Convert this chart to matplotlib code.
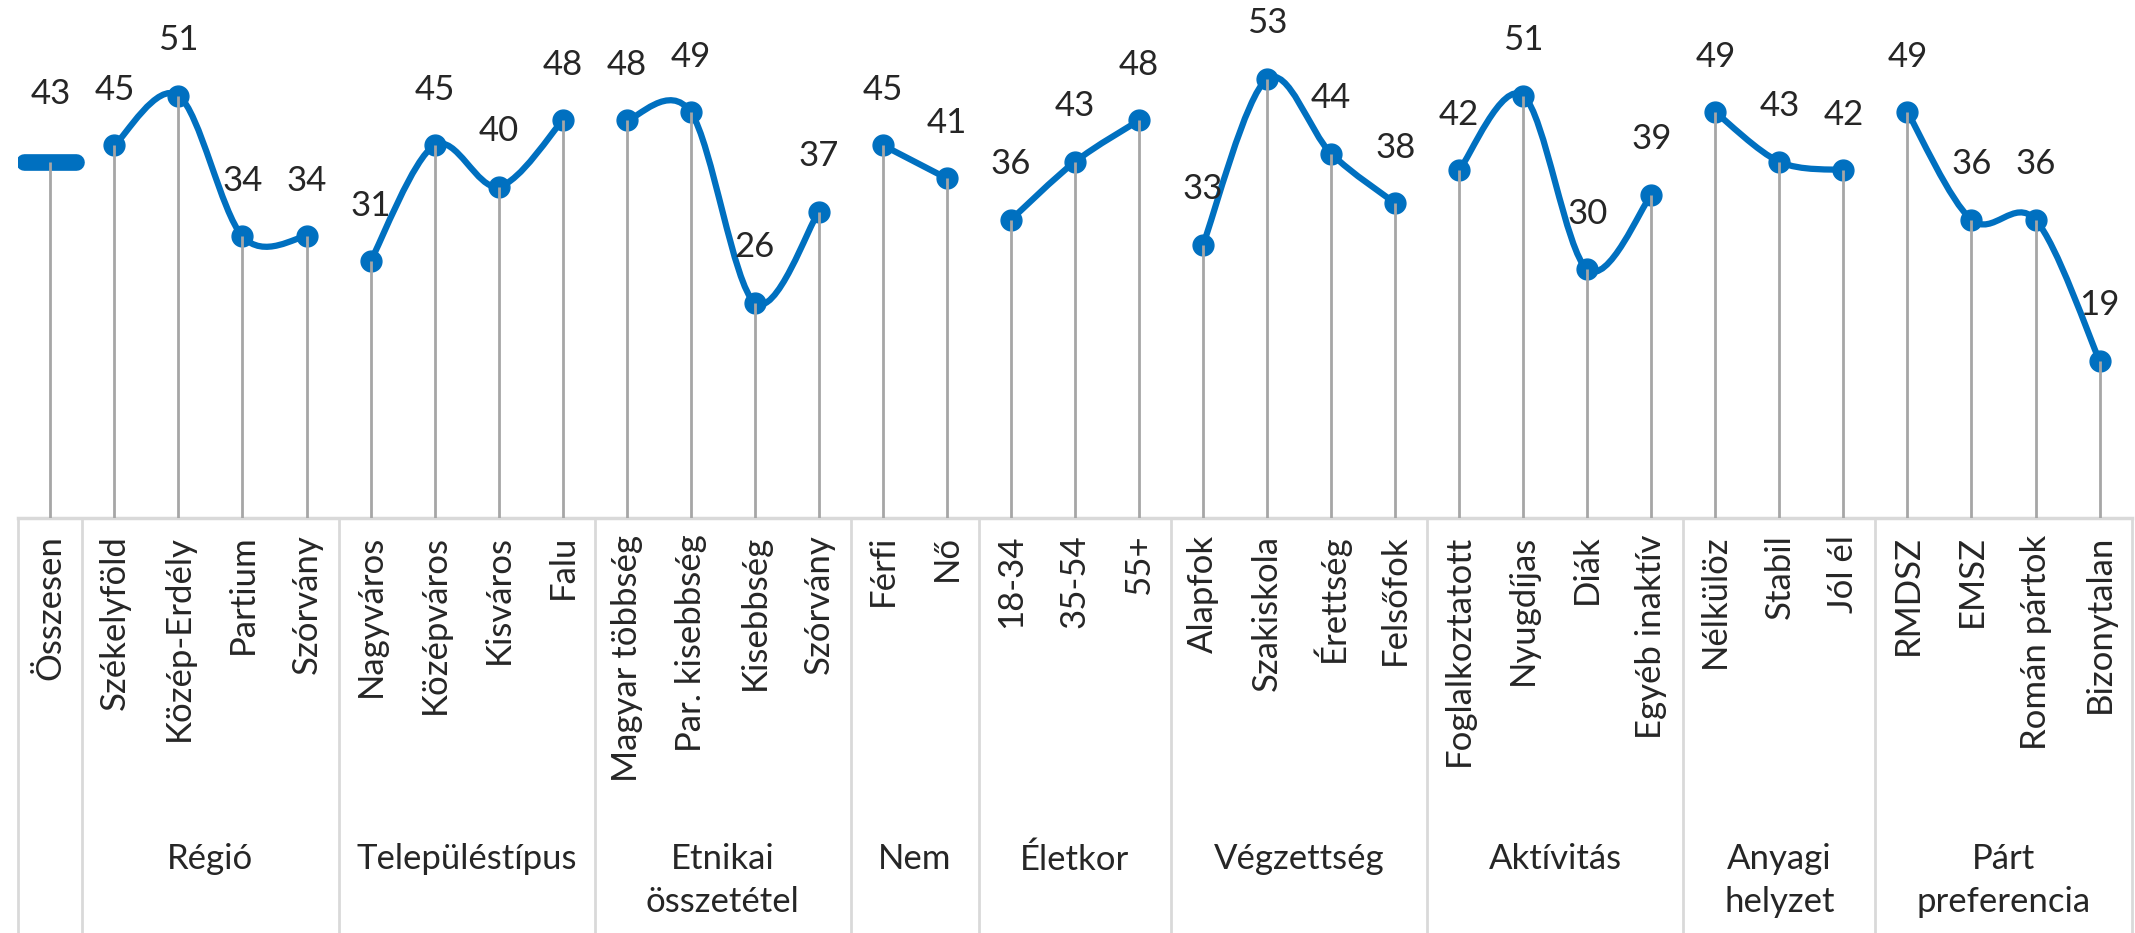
import matplotlib.pyplot as plt
import matplotlib.transforms as mtransforms
from matplotlib.markers import MarkerStyle
from matplotlib.path import Path
from matplotlib.patches import PathPatch

plt.rcParams['font.family'] = ['Lato', 'DejaVu Sans']

TOTAL_LABEL = "Összesen"
TOTAL_VALUE = 43

group_names = ["Régió", "Településtípus", "Etnikai\nösszetétel", "Nem", "Életkor",
               "Végzettség", "Aktívitás", "Anyagi\nhelyzet", "Párt\npreferencia"]
group_cats = [
    ["Székelyföld", "Közép-Erdély", "Partium", "Szórvány"],
    ["Nagyváros", "Középváros", "Kisváros", "Falu"],
    ["Magyar többség", "Par. kisebbség", "Kisebbség", "Szórvány"],
    ["Férfi", "Nő"],
    ["18-34", "35-54", "55+"],
    ["Alapfok", "Szakiskola", "Érettség", "Felsőfok"],
    ["Foglalkoztatott", "Nyugdíjas", "Diák", "Egyéb inaktív"],
    ["Nélkülöz", "Stabil", "Jól él"],
    ["RMDSZ", "EMSZ", "Román pártok", "Bizonytalan"],
]
group_vals = [
    [45, 51, 34, 34],
    [31, 45, 40, 48],
    [48, 49, 26, 37],
    [45, 41],
    [36, 43, 48],
    [33, 53, 44, 38],
    [42, 51, 30, 39],
    [49, 43, 42],
    [49, 36, 36, 19],
]

BLUE = "#0070C0"
DROP = "#A6A6A6"
AXIS = "#D9D9D9"
TEXT = "#262626"
FS = 25


def smooth_path(xs, ys):
    # Catmull-Rom style bezier, similar to Excel "smoothed line"
    pts = list(zip(xs, ys))
    n = len(pts)
    verts = [pts[0]]
    codes = [Path.MOVETO]
    for i in range(n - 1):
        p0 = pts[i - 1] if i > 0 else pts[i]
        p1 = pts[i]
        p2 = pts[i + 1]
        p3 = pts[i + 2] if i + 2 < n else pts[i + 1]
        c1 = (p1[0] + (p2[0] - p0[0]) / 6, p1[1] + (p2[1] - p0[1]) / 6)
        c2 = (p2[0] - (p3[0] - p1[0]) / 6, p2[1] - (p3[1] - p1[1]) / 6)
        verts += [c1, c2, p2]
        codes += [Path.CURVE4] * 3
    return Path(verts, codes)


fig = plt.figure(figsize=(21.35, 9.33), dpi=100)
ax = fig.add_axes([0.0086, 0.4448, 0.9898, 0.5327])
ax.set_xlim(-0.5, 32.5)
ax.set_ylim(0, 60)

labels = [TOTAL_LABEL]
x = 1
bounds = [-0.5, 0.5]
centers = []
for cats, vals in zip(group_cats, group_vals):
    xs = list(range(x, x + len(cats)))
    ax.add_patch(PathPatch(smooth_path(xs, vals), fill=False, edgecolor=BLUE,
                           lw=4.5, capstyle='round', joinstyle='round', zorder=3))
    ax.plot(xs, vals, 'o', color=BLUE, ms=15, zorder=4)
    ax.vlines(xs, 0, vals, color=DROP, lw=2, zorder=5)
    for xi, v in zip(xs, vals):
        ax.annotate(str(v), (xi, v), xytext=(0, 40), textcoords='offset points',
                    ha='center', va='center', fontsize=FS, color=TEXT)
    labels += cats
    centers.append((xs[0] + xs[-1]) / 2)
    x += len(cats)
    bounds.append(x - 0.5)

# total
ax.plot([0], [TOTAL_VALUE], marker=MarkerStyle('_', capstyle='round'), color=BLUE,
        ms=38, mew=12, zorder=4)
ax.vlines([0], 0, TOTAL_VALUE, color=DROP, lw=2, zorder=5)
ax.annotate(str(TOTAL_VALUE), (0, TOTAL_VALUE), xytext=(0, 49), textcoords='offset points',
            ha='center', va='center', fontsize=FS, color=TEXT)

for s in ax.spines.values():
    s.set_visible(False)
ax.axhline(0, color=AXIS, lw=2.5, zorder=1, clip_on=False)
ax.set_yticks([])
ax.set_xticks(range(len(labels)))
ax.set_xticklabels(labels, rotation=90, fontsize=FS, color=TEXT, va='top')
ax.tick_params(axis='x', length=0, pad=12)

trans = ax.get_xaxis_transform()
for b in bounds:
    ax.plot([b, b], [0, -0.84], transform=trans, color=AXIS, lw=2, clip_on=False)

gtrans = mtransforms.blended_transform_factory(ax.transData, fig.transFigure)
for c, name in zip(centers, group_names):
    ax.text(c, 0.096, name, transform=gtrans, ha='center', va='top',
            fontsize=FS, color=TEXT, linespacing=1.4)

fig.savefig("out.png", dpi=100)
